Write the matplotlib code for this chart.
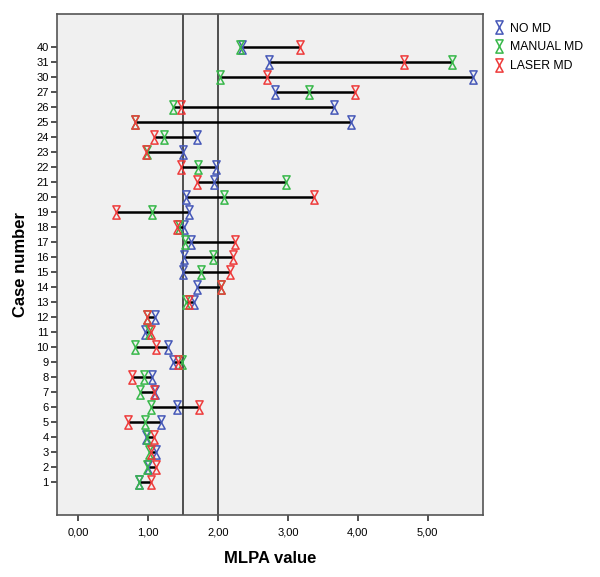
import matplotlib
matplotlib.use("Agg")
import matplotlib.pyplot as plt
import numpy as np
from matplotlib.path import Path

plt.rcParams['font.family'] = ['Liberation Sans', 'DejaVu Sans']

cases = ['1', '2', '3', '4', '5', '6', '7', '8', '9', '10', '11', '12', '13', '14',
         '15', '16', '17', '18', '19', '20', '21', '22', '23', '24', '25', '26', '27',
         '30', '31', '40']
no_md = [0.87, 1.00, 1.11, 0.97, 1.19, 1.42, 1.10, 1.06, 1.36, 1.28, 0.96, 1.10, 1.66, 1.70,
         1.50, 1.51, 1.61, 1.51, 1.58, 1.54, 1.94, 1.97, 1.50, 1.70, 3.90, 3.66, 2.81,
         5.64, 2.73, 2.34]
manual_md = [0.87, 0.99, 1.02, 0.98, 0.96, 1.04, 0.88, 0.95, 1.48, 0.82, 1.02, 0.98, 1.55, 2.04,
             1.76, 1.93, 1.53, 1.44, 1.06, 2.09, 2.98, 1.72, 0.99, 1.23, 0.82, 1.36, 3.30,
             2.03, 5.35, 2.31]
laser_md = [1.04, 1.12, 1.04, 1.08, 0.72, 1.73, 1.08, 0.77, 1.43, 1.11, 1.04, 0.98, 1.58, 2.04,
            2.18, 2.22, 2.24, 1.41, 0.55, 3.38, 1.70, 1.47, 0.97, 1.09, 0.82, 1.47, 3.96,
            2.70, 4.66, 3.18]
ref_lines = [1.5, 2.0]

# hourglass marker
w = 0.55
hourglass = Path([(-w, 1), (w, 1), (-w, -1), (w, -1), (-w, 1)],
                 [Path.MOVETO, Path.LINETO, Path.LINETO, Path.LINETO, Path.CLOSEPOLY])

fig = plt.figure(figsize=(6, 5.77), dpi=100)
ax = fig.add_axes([0.095, 0.1075, 0.71, 0.868])
ax.set_facecolor('#f0f0f0')

y = np.arange(len(cases))
vals = np.array([no_md, manual_md, laser_md])
ax.hlines(y, vals.min(axis=0), vals.max(axis=0), color='black', lw=1.8, zorder=2)

for xv in ref_lines:
    ax.axvline(xv, color='#222222', lw=1.1, zorder=1)

series = [(no_md, 'NO MD', '#4658b8'), (manual_md, 'MANUAL MD', '#38b84a'),
          (laser_md, 'LASER MD', '#ee3b3b')]
for data, name, col in series:
    ax.plot(data, y, linestyle='none', marker=hourglass, markersize=9.5,
            markerfacecolor='none', markeredgecolor=col, markeredgewidth=1.1,
            label=name, zorder=3)

ax.set_xlim(-0.3, 5.79)
ax.set_ylim(-2.2, len(cases) - 1 + 2.2)
ax.set_xticks([0, 1, 2, 3, 4, 5])
ax.set_xticklabels(['0,00', '1,00', '2,00', '3,00', '4,00', '5,00'])
ax.set_yticks(y)
ax.set_yticklabels(cases)
ax.tick_params(axis='both', labelsize=8, length=4, width=1.1, color='#222222', pad=2)
ax.tick_params(axis='x', pad=5)
for s in ax.spines.values():
    s.set_color('#555555')
    s.set_linewidth(1.2)

ax.set_xlabel('MLPA value', fontsize=12, fontweight='bold', labelpad=10)
ax.set_ylabel('Case number', fontsize=12, fontweight='bold', labelpad=6)

ax.legend(loc='upper left', bbox_to_anchor=(1.005, 1.0), frameon=False, fontsize=8.8,
          handlelength=0.8, handletextpad=0.5, labelspacing=0.55, borderaxespad=0.3)

fig.savefig('out.png', dpi=100)
